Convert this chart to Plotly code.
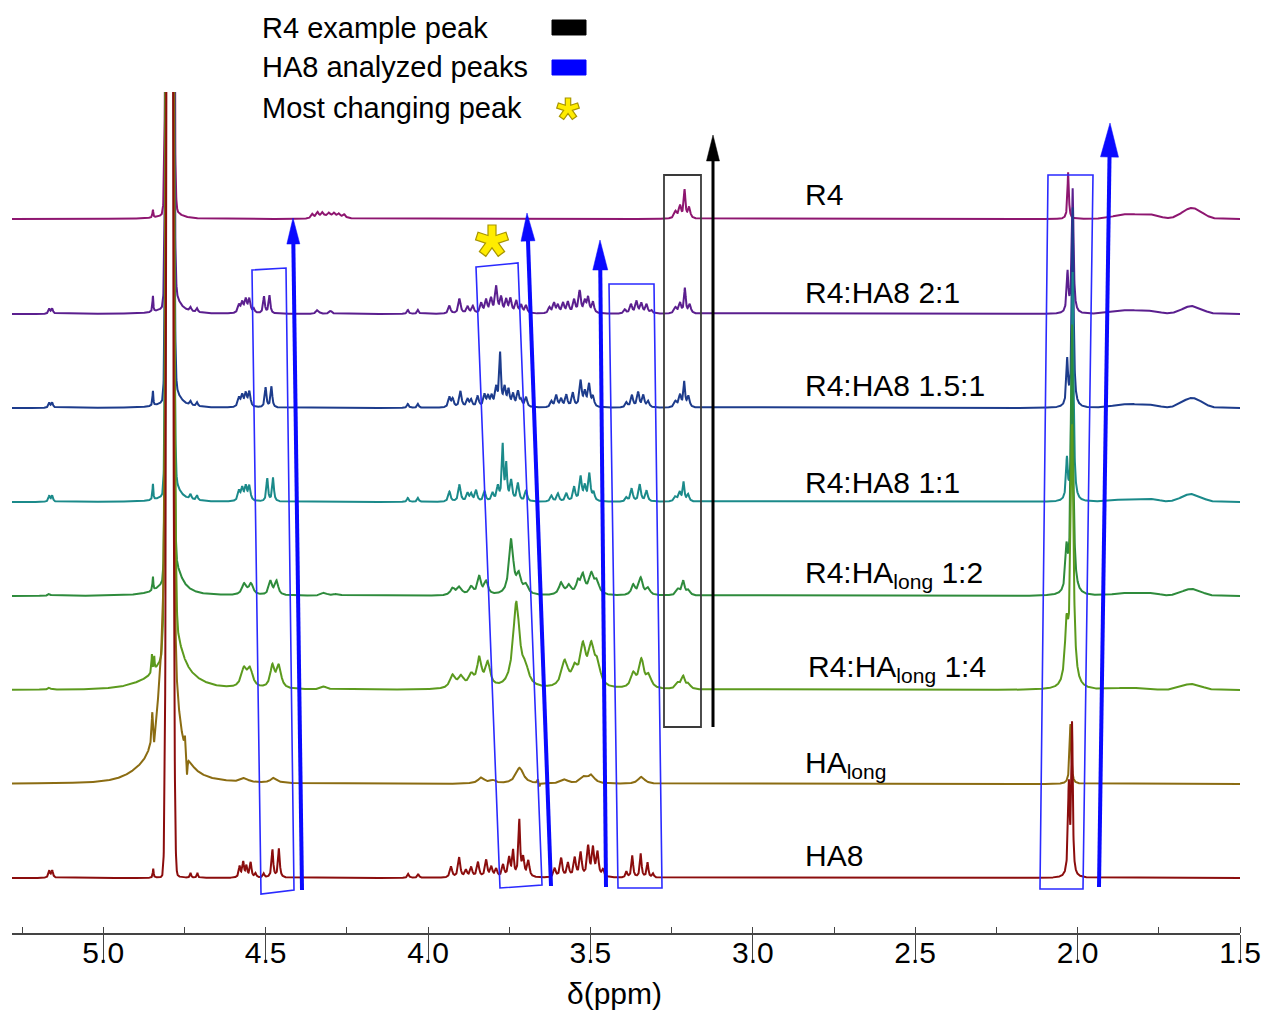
import numpy as np
import plotly.graph_objects as go

# ---------------- data ----------------
# peak lists: (ppm, intensity, half-width in ppm)
# "sharp" = Lorentzian lines, "broad" = Gaussian humps
spectrum_names = ["R4", "R4:HA8 2:1", "R4:HA8 1.5:1", "R4:HA8 1:1",
                  "R4:HA<sub>long</sub> 1:2", "R4:HA<sub>long</sub> 1:4",
                  "HA<sub>long</sub>", "HA8"]

r4_sharp = [(4.847, 8, 0.0015), (4.790, 14, 0.02),
            (4.356, 4, 0.004), (4.340, 5, 0.004), (4.325, 4, 0.004), (4.305, 3, 0.004),
            (4.289, 3, 0.004), (4.274, 3, 0.004), (4.258, 3, 0.004),
            (3.238, 7, 0.005), (3.224, 12, 0.004), (3.210, 28, 0.003), (3.196, 11, 0.004),
            (2.029, 47, 0.0025)]
r4_broad = [(4.795, 3000, 0.006), (4.30, 3, 0.035), (1.84, 5, 0.045), (1.765, 3, 0.02), (1.648, 11, 0.03)]

r4ha8_21_sharp = [(5.166, 5, 0.003), (5.157, 5, 0.003), (4.847, 16, 0.0015), (4.785, 25, 0.02),
                  (4.731, 4, 0.003), (4.711, 4, 0.003),
                  (4.582, 8, 0.004), (4.572, 10, 0.004), (4.561, 13, 0.004), (4.550, 14, 0.004), (4.536, 4, 0.003),
                  (4.505, 17, 0.003), (4.488, 18, 0.003),
                  (4.340, 4, 0.005), (4.300, 3, 0.005), (4.062, 4, 0.003), (4.031, 4, 0.003),
                  (3.934, 8, 0.004), (3.903, 15, 0.004), (3.878, 7, 0.004), (3.862, 7, 0.004), (3.836, 10, 0.004),
                  (3.821, 13, 0.004), (3.806, 14, 0.004), (3.790, 26, 0.004), (3.775, 15, 0.004), (3.759, 13, 0.004),
                  (3.746, 14, 0.004), (3.728, 12, 0.004), (3.713, 8, 0.004), (3.698, 8, 0.004),
                  (3.626, 6, 0.004), (3.612, 10, 0.004), (3.600, 8, 0.004), (3.584, 10, 0.004), (3.569, 11, 0.004),
                  (3.550, 13, 0.004), (3.533, 22, 0.004), (3.517, 11, 0.004), (3.507, 15, 0.004), (3.492, 11, 0.004),
                  (3.394, 4, 0.004), (3.375, 9, 0.004), (3.358, 12, 0.004), (3.343, 10, 0.004), (3.327, 9, 0.004),
                  (3.312, 3, 0.004),
                  (3.238, 6, 0.005), (3.224, 10, 0.004), (3.209, 25, 0.003), (3.194, 9, 0.004),
                  (2.031, 40, 0.003), (2.015, 125, 0.003)]
r4ha8_21_broad = [(4.795, 3000, 0.006), (1.84, 4, 0.045), (1.765, 2, 0.02), (1.648, 8, 0.03)]

r4ha8_151_sharp = [(5.166, 5, 0.003), (5.157, 5, 0.003), (4.847, 15, 0.0015), (4.785, 25, 0.02),
                   (4.731, 4, 0.003), (4.711, 4, 0.003),
                   (4.582, 9, 0.004), (4.572, 11, 0.004), (4.561, 13, 0.004), (4.550, 15, 0.004),
                   (4.500, 20, 0.003), (4.482, 21, 0.003),
                   (4.062, 4, 0.003), (4.031, 4, 0.003),
                   (3.934, 10, 0.004), (3.924, 8, 0.004), (3.900, 16, 0.004), (3.878, 8, 0.004), (3.867, 7, 0.004),
                   (3.847, 11, 0.004), (3.826, 12, 0.004), (3.815, 10, 0.004), (3.804, 10, 0.004), (3.790, 18, 0.004),
                   (3.778, 52, 0.003), (3.764, 18, 0.004), (3.752, 16, 0.004), (3.738, 12, 0.004), (3.723, 15, 0.004),
                   (3.713, 6, 0.004), (3.698, 10, 0.004),
                   (3.620, 6, 0.004), (3.605, 12, 0.004), (3.590, 8, 0.004), (3.574, 12, 0.004), (3.554, 14, 0.004),
                   (3.530, 26, 0.004), (3.517, 14, 0.004), (3.504, 22, 0.004), (3.492, 10, 0.004),
                   (3.389, 5, 0.004), (3.372, 12, 0.004), (3.353, 15, 0.004), (3.337, 12, 0.004), (3.322, 6, 0.004),
                   (3.238, 6, 0.005), (3.224, 12, 0.004), (3.211, 25, 0.003), (3.198, 11, 0.004),
                   (2.032, 45, 0.003), (2.015, 200, 0.003)]
r4ha8_151_broad = [(4.795, 3000, 0.006), (1.84, 4, 0.045), (1.765, 2, 0.02), (1.648, 10, 0.03)]

r4ha8_11_sharp = [(5.166, 6, 0.003), (5.157, 6, 0.003), (4.847, 16, 0.0015), (4.785, 25, 0.02),
                  (4.731, 5, 0.003), (4.711, 5, 0.003),
                  (4.582, 10, 0.004), (4.572, 12, 0.004), (4.561, 14, 0.004), (4.550, 15, 0.004),
                  (4.495, 23, 0.003), (4.477, 24, 0.003),
                  (4.062, 4, 0.003), (4.031, 4, 0.003),
                  (3.934, 10, 0.004), (3.903, 17, 0.004), (3.878, 8, 0.004), (3.867, 7, 0.004), (3.852, 11, 0.004),
                  (3.826, 10, 0.004), (3.801, 8, 0.004), (3.785, 14, 0.004), (3.770, 55, 0.003), (3.759, 35, 0.003),
                  (3.744, 20, 0.004), (3.723, 18, 0.004), (3.698, 11, 0.004),
                  (3.620, 6, 0.004), (3.600, 8, 0.004), (3.574, 8, 0.004), (3.550, 14, 0.004), (3.530, 24, 0.004),
                  (3.517, 14, 0.004), (3.503, 27, 0.004), (3.490, 8, 0.004),
                  (3.389, 4, 0.004), (3.373, 13, 0.004), (3.348, 17, 0.004), (3.327, 11, 0.004),
                  (3.238, 5, 0.005), (3.225, 9, 0.004), (3.213, 19, 0.003), (3.199, 7, 0.004),
                  (2.033, 40, 0.003), (2.015, 230, 0.003)]
r4ha8_11_broad = [(4.795, 3000, 0.006), (1.84, 3, 0.045), (1.765, 2, 0.02), (1.650, 8, 0.03)]

r4halong_12_sharp = [(5.166, 2, 0.004), (4.847, 14, 0.0015), (4.785, 40, 0.025),
                     (4.566, 11, 0.008), (4.545, 11, 0.008), (4.485, 14, 0.006), (4.466, 14, 0.006),
                     (4.32, 3, 0.01), (4.28, 2, 0.01),
                     (3.924, 7, 0.008), (3.903, 8, 0.008), (3.867, 8, 0.008), (3.842, 18, 0.006), (3.821, 13, 0.007),
                     (3.744, 55, 0.008), (3.720, 18, 0.008), (3.698, 9, 0.008),
                     (3.590, 12, 0.008), (3.566, 9, 0.008), (3.538, 12, 0.007), (3.523, 18, 0.007), (3.497, 20, 0.009),
                     (3.480, 12, 0.008),
                     (3.368, 10, 0.007), (3.345, 17, 0.007), (3.322, 7, 0.007),
                     (3.230, 6, 0.007), (3.214, 14, 0.005), (3.198, 5, 0.006),
                     (2.034, 40, 0.004), (2.017, 270, 0.004)]
r4halong_12_broad = [(4.795, 3000, 0.006), (1.84, 3, 0.045), (1.765, 2, 0.02), (1.650, 7, 0.03)]

r4halong_14_sharp = [(5.166, 2, 0.004), (4.850, 18, 0.0015), (4.843, 14, 0.0015), (4.785, 60, 0.03),
                     (4.567, 18, 0.01), (4.548, 18, 0.01), (4.479, 22, 0.008), (4.459, 22, 0.008),
                     (4.32, 3, 0.01),
                     (3.924, 13, 0.01), (3.898, 11, 0.01), (3.867, 12, 0.01), (3.842, 28, 0.008), (3.816, 24, 0.009),
                     (3.728, 85, 0.012), (3.700, 15, 0.012),
                     (3.579, 26, 0.012), (3.548, 16, 0.01), (3.523, 38, 0.01), (3.497, 38, 0.011), (3.478, 20, 0.01),
                     (3.368, 14, 0.009), (3.343, 28, 0.009), (3.320, 12, 0.009),
                     (3.230, 6, 0.008), (3.214, 12, 0.006), (3.198, 5, 0.007),
                     (2.034, 55, 0.006), (2.017, 260, 0.005)]
r4halong_14_broad = [(4.795, 3000, 0.007), (4.80, 8, 0.08), (1.84, 2, 0.045), (1.650, 6, 0.03)]

halong_sharp = [(4.849, 28, 0.002), (4.843, -16, 0.002), (4.748, 14, 0.002), (4.742, -22, 0.002),
                (4.80, 280, 0.02),
                (4.565, 4, 0.012), (4.475, 5, 0.012), (3.836, 6, 0.012), (3.80, 3, 0.01), (3.718, 16, 0.014),
                (3.662, 4, 0.002), (3.657, -4, 0.002), (3.579, 4, 0.012), (3.52, 6, 0.012), (3.497, 8, 0.012),
                (3.343, 7, 0.012), (2.022, 60, 0.003)]
halong_broad = [(4.795, 3000, 0.006), (4.87, 6, 0.05)]

ha8_sharp = [(5.166, 7, 0.003), (5.157, 7, 0.003), (4.846, 9, 0.0015), (4.790, 10, 0.01),
             (4.731, 5, 0.002), (4.710, 5, 0.002),
             (4.580, 11, 0.003), (4.569, 15, 0.003), (4.559, 11, 0.003), (4.546, 15, 0.003), (4.531, 4, 0.003),
             (4.506, 4, 0.003), (4.479, 28, 0.003), (4.459, 29, 0.003),
             (4.061, 4, 0.003), (4.030, 4, 0.003),
             (3.929, 11, 0.004), (3.904, 20, 0.004), (3.883, 7, 0.004), (3.867, 10, 0.004), (3.846, 15, 0.004),
             (3.821, 17, 0.004), (3.805, 10, 0.004), (3.790, 8, 0.004), (3.769, 12, 0.004), (3.750, 19, 0.004),
             (3.738, 25, 0.003), (3.719, 56, 0.003), (3.707, 18, 0.004), (3.691, 16, 0.004),
             (3.610, 9, 0.004), (3.590, 19, 0.004), (3.569, 14, 0.004), (3.548, 19, 0.004), (3.530, 24, 0.004),
             (3.507, 30, 0.004), (3.492, 28, 0.004), (3.478, 24, 0.004), (3.461, 7, 0.004),
             (3.389, 6, 0.003), (3.371, 22, 0.003), (3.345, 24, 0.003), (3.324, 15, 0.003), (3.307, 4, 0.003),
             (2.027, 90, 0.003), (2.017, 150, 0.0025)]
ha8_broad = [(4.795, 3000, 0.006)]

tick_vals = [5.0, 4.5, 4.0, 3.5, 3.0, 2.5, 2.0, 1.5]
tick_text = ["5.0", "4.5", "4.0", "3.5", "3.0", "2.5", "2.0", "1.5"]
legend_labels = ["R4 example peak", "HA8 analyzed peaks", "Most changing peak"]

# ---------------- layout helpers ----------------
W, H = 1267, 1013
L, R, T, B = 12, 27, 92, 80
PW, PH = W - L - R, H - T - B
PPM_LEFT, PPM_RIGHT = 5.0 + 91 / 324, 1.5

sharp_sets = [r4_sharp, r4ha8_21_sharp, r4ha8_151_sharp, r4ha8_11_sharp,
              r4halong_12_sharp, r4halong_14_sharp, halong_sharp, ha8_sharp]
broad_sets = [r4_broad, r4ha8_21_broad, r4ha8_151_broad, r4ha8_11_broad,
              r4halong_12_broad, r4halong_14_broad, halong_broad, ha8_broad]
colors = ["#8e1670", "#5b1f8f", "#1d3c8c", "#1b8a8a", "#2e8b3c", "#5c9a1e", "#8b6c12", "#8b0d0d"]
baseline_px = [219, 314, 408, 502, 596, 690, 784, 878]

axis_ppm = np.arange(PPM_RIGHT, PPM_LEFT + 1e-9, 0.0004)


def spectrum(sharp, broad):
    y = np.zeros_like(axis_ppm)
    for c, h, w in sharp:
        d = (axis_ppm - c) / w
        y += h / (1 + d * d)
    for c, h, s in broad:
        d = (axis_ppm - c) / s
        y += h * np.exp(-0.5 * d * d)
    return y


def px(x, y):
    return (x - L) / PW, (H - B - y) / PH


fig = go.Figure()
for name, sh, br, col, bpx in zip(spectrum_names, sharp_sets, broad_sets, colors, baseline_px):
    fig.add_trace(go.Scatter(x=axis_ppm, y=spectrum(sh, br) + (H - B - bpx), mode="lines",
                             line=dict(color=col, width=2), name=name, showlegend=False,
                             hoverinfo="skip"))

shapes = []


def poly(points, color, width, fill=None):
    pts = [px(x, y) for x, y in points]
    path = "M " + " L ".join(f"{a:.5f},{b:.5f}" for a, b in pts) + " Z"
    d = dict(type="path", xref="paper", yref="paper", path=path,
             line=dict(color=color, width=width))
    if fill:
        d["fillcolor"] = fill
    shapes.append(d)


def arrow(x0, y0, x1, y1, color, width, hl, hw):
    dx, dy = x1 - x0, y1 - y0
    n = (dx * dx + dy * dy) ** 0.5
    ux, uy = dx / n, dy / n
    bx, by = x1 - hl * ux, y1 - hl * uy
    a0, b0 = px(x0, y0)
    a1, b1 = px(bx, by)
    shapes.append(dict(type="line", xref="paper", yref="paper", x0=a0, y0=b0, x1=a1, y1=b1,
                       line=dict(color=color, width=width)))
    poly([(x1, y1), (bx - hw * uy, by + hw * ux), (bx + hw * uy, by - hw * ux)], color, 0.5, color)


def star(cx, cy, arm, hw, fill, edge):
    pts = []
    for k in range(5):
        th = np.deg2rad(-90 + 72 * k)
        ux, uy = np.cos(th), np.sin(th)
        nx, ny = -uy, ux
        pts.append((cx + arm * ux - hw * nx, cy + arm * uy - hw * ny))
        pts.append((cx + arm * ux + hw * nx, cy + arm * uy + hw * ny))
        ti = th + np.deg2rad(36)
        r = hw / np.sin(np.deg2rad(36))
        pts.append((cx + r * np.cos(ti), cy + r * np.sin(ti)))
    poly(pts, edge, 1.2, fill)


BOX_BLUE = "#2a2aff"
ARR_BLUE = "#0a0aff"
# tilted boxes around analysed peaks
poly([(252, 270), (286, 268), (294, 890), (261, 894)], BOX_BLUE, 1.6)
poly([(476, 267), (518, 263), (542, 885), (500, 888)], BOX_BLUE, 1.6)
poly([(609, 284), (654, 284), (662, 888), (618, 888)], BOX_BLUE, 1.6)
poly([(1048, 175), (1093, 175), (1083, 889), (1040, 889)], BOX_BLUE, 1.6)
# R4 example box
poly([(664, 175), (701, 175), (701, 727), (664, 727)], "#3a3a3a", 1.8)
# arrows
arrow(302, 890, 293, 218, ARR_BLUE, 4, 26, 6.5)
arrow(551, 886, 527, 213, ARR_BLUE, 4, 28, 7)
arrow(606, 887, 600, 240, ARR_BLUE, 4, 30, 7.5)
arrow(1099, 887, 1110, 123, ARR_BLUE, 4, 34, 9)
arrow(713, 727, 713, 135, "#000000", 3, 26, 6.5)
# star marking the most changing peak
star(492, 241, 16, 4, "#ffec00", "#a89500")

# legend swatches
poly([(552, 20), (586, 20), (586, 35), (552, 35)], "#000000", 1, "#000000")
poly([(552, 60), (586, 60), (586, 75), (552, 75)], "#0000ff", 1, "#0000ff")
star(568, 109, 11, 2.7, "#ffec00", "#a89500")

annotations = []
FONT = "Liberation Sans, Arial, Helvetica, sans-serif"
for lab, ypx in zip(legend_labels, [28, 67, 108]):
    a, b = px(260, ypx)
    annotations.append(dict(xref="paper", yref="paper", x=a, y=b, text=lab, showarrow=False,
                            xanchor="left", yanchor="middle", font=dict(family=FONT, size=29, color="#000")))

label_pos = [(803, 195), (803, 292), (803, 386), (803, 482), (803, 574), (806, 669), (803, 764), (803, 855)]
for lab, (xp, yp) in zip(spectrum_names, label_pos):
    a, b = px(xp, yp)
    annotations.append(dict(xref="paper", yref="paper", x=a, y=b, text=lab, showarrow=False,
                            xanchor="left", yanchor="middle", font=dict(family=FONT, size=30, color="#000")))

a, b = px(614, 993)
annotations.append(dict(xref="paper", yref="paper", x=a, y=b, text="δ(ppm)", showarrow=False,
                        xanchor="center", yanchor="middle", font=dict(family=FONT, size=30, color="#000")))

fig.update_layout(
    width=W, height=H, margin=dict(l=L, r=R, t=T, b=B, autoexpand=False),
    paper_bgcolor="white", plot_bgcolor="white",
    shapes=shapes, annotations=annotations,
    xaxis=dict(range=[PPM_LEFT, PPM_RIGHT], showgrid=False, zeroline=False, automargin=False,
               showline=True, linecolor="#444", linewidth=1.5,
               tickmode="array", tickvals=tick_vals, ticktext=tick_text,
               ticks="outside", ticklen=26, tickwidth=1.2, tickcolor="#444",
               ticklabelstandoff=-34,
               tickfont=dict(family=FONT, size=30, color="#000"),
               minor=dict(dtick=0.25, tick0=0, ticks="inside", ticklen=6, tickcolor="#444", tickwidth=1.2,
                          showgrid=False)),
    yaxis=dict(range=[0, PH], visible=False, fixedrange=True, automargin=False),
)

fig.write_html("out.html")
